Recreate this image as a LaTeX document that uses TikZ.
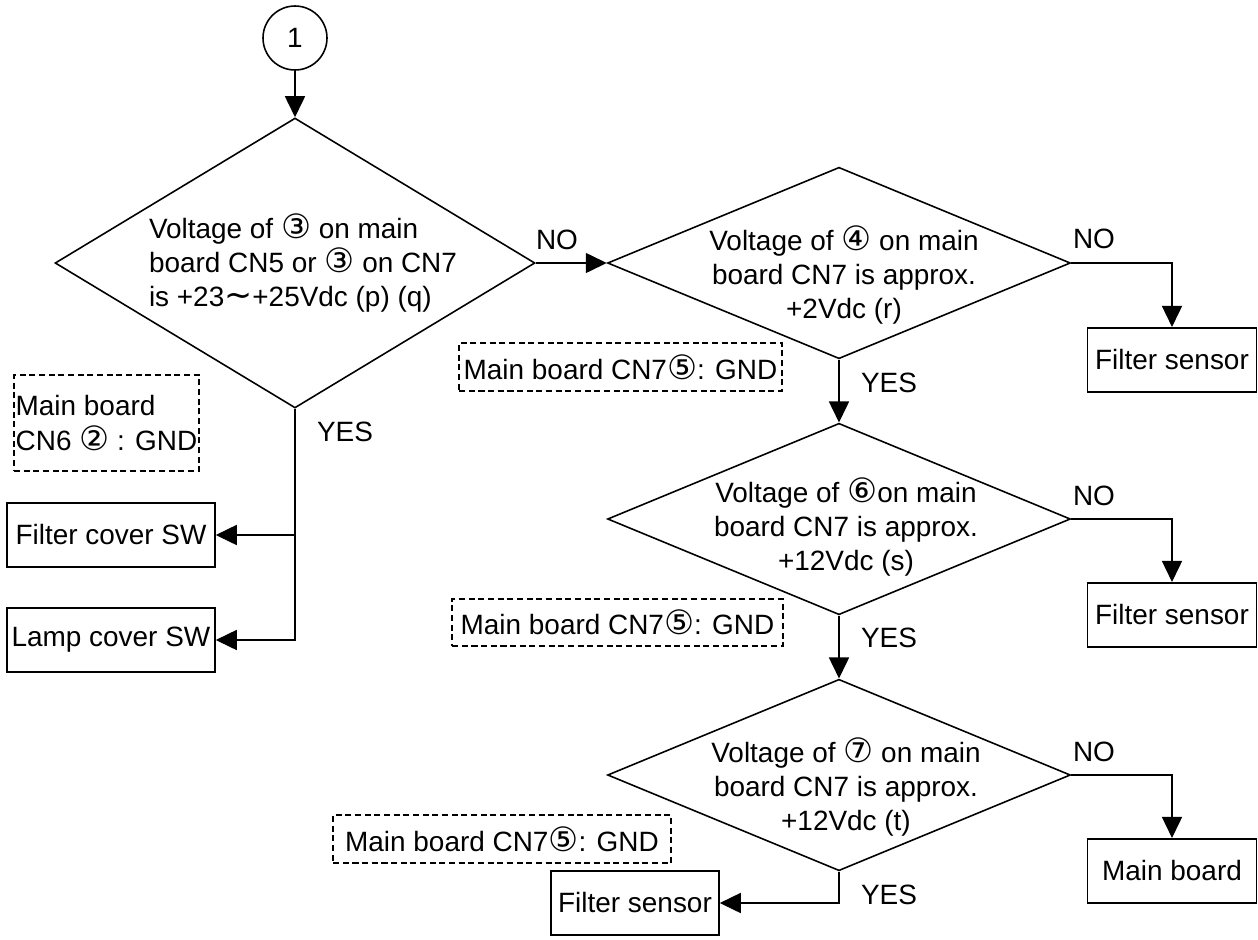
\documentclass[tikz,border=0pt]{standalone}
\usepackage{fontspec}
\setmainfont{Liberation Sans}
\newfontfamily\symfont{DejaVu Sans}[Scale=1.2]
\usetikzlibrary{arrows.meta}
\usetikzlibrary{shapes.geometric}
\newcommand{\kreis}[1]{{\symfont #1}}

\begin{document}
\begin{tikzpicture}[x=0.02cm, y=-0.02cm, % Pixelraster
    font=\fontsize{15.9}{19.6}\selectfont,
    pfeil/.style={-{Triangle[length=0.42cm,width=0.4cm]}, line width=0.9pt},
    kasten/.style={draw, line width=0.9pt, inner sep=0pt, minimum height=1.29cm},
    raute/.style={draw, diamond, line width=0.9pt, inner sep=0pt},
    gnd/.style={draw, line width=0.7pt, dash pattern=on 3.5pt off 2pt, inner sep=0pt}]
    \useasboundingbox (0,0) rectangle (1258,940);
    % Startpunkt
    \node[draw, circle, line width=0.9pt, minimum size=1.28cm, inner sep=0pt] (c1) at (295,38) {1};
    % Entscheidungen
    \node[raute, minimum width=9.6cm, minimum height=5.8cm] (d1) at (295,263) {};
    \node[raute, minimum width=9.26cm, minimum height=3.83cm] (d2) at (839,263) {};
    \node[raute, minimum width=9.26cm, minimum height=3.83cm] (d3) at (839,519) {};
    \node[raute, minimum width=9.26cm, minimum height=3.83cm] (d4) at (839,775) {};
    % Texte in den Rauten
    \node[align=left, inner sep=0pt] (t1) at (303,263)
        {Voltage of \kreis{③} on main\\board CN5 or \kreis{③} on CN7\\is +23\kreis{∼}+25Vdc (p) (q)};
    \node[align=center, inner sep=0pt] (t2) at (844,275)
        {Voltage of \kreis{④} on main\\board CN7 is approx.\\+2Vdc (r)};
    \node[align=center, inner sep=0pt] (t3) at (846,527)
        {Voltage of \kreis{⑥}on main\\board CN7 is approx.\\+12Vdc (s)};
    \node[align=center, inner sep=0pt] (t4) at (846,787)
        {Voltage of \kreis{⑦} on main\\board CN7 is approx.\\+12Vdc (t)};
    % Ergebnisse
    \node[kasten, minimum width=4.16cm] (fcsw) at (111,535) {Filter cover SW};
    \node[kasten, minimum width=4.16cm] (lcsw) at (111,640) {Lamp cover SW};
    \node[kasten, minimum width=3.38cm] (fs1) at (1172,360) {Filter sensor};
    \node[kasten, minimum width=3.38cm] (fs2) at (1172,615) {Filter sensor};
    \node[kasten, minimum width=3.38cm] (mb) at (1172,871) {Main board};
    \node[kasten, minimum width=3.36cm] (fs3) at (635,903) {Filter sensor};
    % Masse-Hinweise (gestrichelt)
    \node[gnd, align=left, minimum width=3.7cm, minimum height=1.92cm] (g1) at (106.5,423)
        {Main board\\CN6 \kreis{②} : GND};
    \node[gnd, minimum width=6.46cm, minimum height=0.96cm] (g2) at (620.5,367) {Main board CN7\kreis{⑤}: GND};
    \node[gnd, minimum width=6.62cm, minimum height=0.94cm] (g3) at (617.5,622.5) {Main board CN7\kreis{⑤}: GND};
    \node[gnd, minimum width=6.76cm, minimum height=0.96cm] (g4) at (502,839) {Main board CN7\kreis{⑤}: GND};
    % Beschriftungen JA/NEIN
    \foreach \n/\x/\y/\t in {no1/557/240/NO, no2/1094/239/NO, no3/1094/496/NO, no4/1094/752/NO,
        yes1/345/432/YES, yes2/889/383/YES, yes3/889/638/YES, yes4/889/895/YES} {
        \node[inner sep=0pt] (\n) at (\x,\y) {\t};
    }
    % Verbindungen
    \draw[pfeil] (c1) -- (d1);
    \draw[pfeil] (d1.east) -- (d2.west);
    \draw[pfeil] (d1.south) |- (fcsw.east);
    \draw[pfeil] (d1.south) |- (lcsw.east);
    \draw[pfeil] (d2.east) -| (fs1.north);
    \draw[pfeil] (d2.south) -- (d3.north);
    \draw[pfeil] (d3.east) -| (fs2.north);
    \draw[pfeil] (d3.south) -- (d4.north);
    \draw[pfeil] (d4.east) -| (mb.north);
    \draw[pfeil] (d4.south) |- (fs3.east);
\end{tikzpicture}
\end{document}
